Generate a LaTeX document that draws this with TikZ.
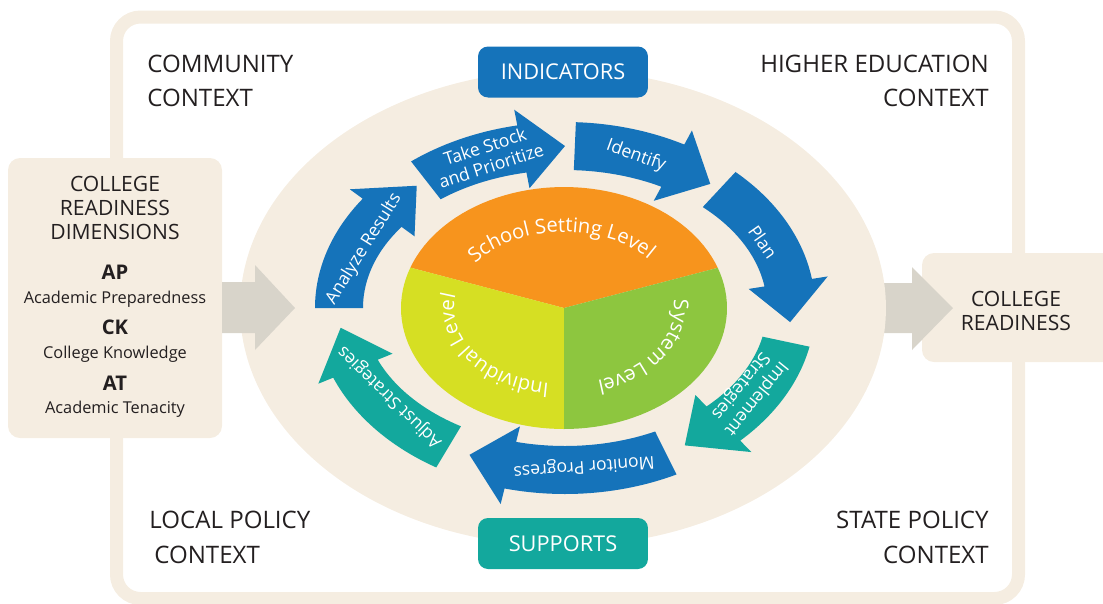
\documentclass[tikz,border=0pt]{standalone}
\usepackage{fontspec}
\setmainfont{Open Sans}
\usetikzlibrary{decorations.text}
\definecolor{beige}{HTML}{F5EDE1}
\definecolor{graya}{HTML}{D8D4CA}
\definecolor{bluea}{HTML}{1573BA}
\definecolor{teala}{HTML}{13A89D}
\definecolor{oranga}{HTML}{F7941D}
\definecolor{yella}{HTML}{D6DF23}
\definecolor{greena}{HTML}{8DC63F}
\definecolor{inka}{HTML}{231F20}
\newcommand\fsz[1]{\fontsize{#1}{#1}\selectfont}
% ring geometry for the cycle arrows
\def\CX{565}\def\CY{308}\def\RA{226}\def\RB{162}\def\HW{24}\def\BX{16}
\newcommand\ringarrow[4]{% color, tail angle, head base angle, tip angle
  \fill[#1] plot[domain=#2:#3,samples=30] ({\CX+(\RA+\HW)*cos(\x)},{\CY+(\RB+\HW)*sin(\x)})
    -- ({\CX+(\RA+\HW+\BX)*cos(#3)},{\CY+(\RB+\HW+\BX)*sin(#3)})
    -- ({\CX+\RA*cos(#4)},{\CY+\RB*sin(#4)})
    -- ({\CX+(\RA-\HW-\BX)*cos(#3)},{\CY+(\RB-\HW-\BX)*sin(#3)})
    -- plot[domain=#3:#2,samples=30] ({\CX+(\RA-\HW)*cos(\x)},{\CY+(\RB-\HW)*sin(\x)}) -- cycle;}
\begin{document}
\begin{tikzpicture}[x=0.02cm,y=-0.02cm,
  ctx/.style={inner sep=0, text=inka, font=\fsz{13.7}},
  dimcap/.style={inner sep=0, text=inka, font=\fsz{12}},
  dimab/.style={inner sep=0, text=inka, font=\bfseries\fsz{11.5}},
  dimtx/.style={inner sep=0, text=inka, font=\fsz{9.3}},
  tagbox/.style={rounded corners=0.2cm, minimum width=3.4cm, minimum height=1.02cm, text=white, font=\fsz{12.4}, inner sep=0},
  lbl/.style={inner sep=0, text=white, font=\fontsize{10}{11.5}\selectfont, align=center},
  pietext/.style={decorate, decoration={text along path, text align=center, text={|\fsz{11.5}\color{white}|#1}}}]
\useasboundingbox (0,0) rectangle (1103,603);
% outer frame
\draw[beige, line width=7.4pt, rounded corners=0.48cm] (116.5,17) rectangle (1018.5,598.5);
% right box and arrow
\fill[beige, rounded corners=0.24cm] (922,253) rectangle (1125,362);
\fill[graya] (860,283) -- (912,283) -- (912,267) -- (953,308) -- (912,350) -- (912,333) -- (860,333) -- cycle;
% big ellipse
\fill[beige] (563,308) ellipse (6.46cm and 4.76cm);
% left box and arrow
\fill[beige, rounded corners=0.24cm] (8,158) rectangle (222,438);
\fill[graya] (222,282) -- (255,282) -- (255,265) -- (295,308) -- (255,350) -- (255,333) -- (222,333) -- cycle;
% pie
\fill[oranga] (564,308) -- plot[domain=199.5:340.6,samples=50] ({564+163*cos(\x)},{308+121*sin(\x)}) -- cycle;
\fill[yella] (564,308) -- plot[domain=90:199.5,samples=40] ({564+163*cos(\x)},{308+121*sin(\x)}) -- cycle;
\fill[greena] (564,308) -- plot[domain=-19.4:90,samples=40] ({564+163*cos(\x)},{308+121*sin(\x)}) -- cycle;
\path[pietext={School Setting Level}] plot[domain=198:338,samples=50] ({564+110*cos(\x)},{308+76*sin(\x)});
\path[pietext={System Level}] plot[domain=-14:78,samples=40] ({564+110*cos(\x)},{308+76*sin(\x)});
\path[pietext={Individual Level}] plot[domain=92:198,samples=40] ({564+110*cos(\x)},{308+76*sin(\x)});
% cycle arrows
\ringarrow{bluea}{180}{216}{229}
\ringarrow{bluea}{232}{259}{270}
\ringarrow{bluea}{272.5}{298.5}{310}
\ringarrow{bluea}{313}{351}{365}
\ringarrow{teala}{12}{45.5}{58}
\ringarrow{bluea}{63.5}{104}{115}
\ringarrow{teala}{121}{158}{173}
\node[lbl, rotate=58] (an) at (364,249) {Analyze Results};
\node[lbl, rotate=18] (ts) at (488,156) {Take Stock\\and Prioritize};
\node[lbl, rotate=-20] (id) at (636,156) {Identify};
\node[lbl, rotate=-55] (pl) at (763,242) {Plan};
\node[lbl, rotate=-129] (im) at (748,392) {Implement\\Strategies};
\node[lbl, rotate=184] (mo) at (584,466) {Monitor Progress};
\node[lbl, rotate=136] (ad) at (390,397) {Adjust Strategies};
% tag boxes
\node[tagbox, fill=bluea] (ind) at (563,72) {INDICATORS};
\node[tagbox, fill=teala] (sup) at (563,543.5) {SUPPORTS};
% context labels
\node[ctx, anchor=base west] (c1a) at (147,72) {COMMUNITY};
\node[ctx, anchor=base west] (c1b) at (147,106) {CONTEXT};
\node[ctx, anchor=base east] (c2a) at (989,72) {HIGHER EDUCATION};
\node[ctx, anchor=base east] (c2b) at (989,106) {CONTEXT};
\node[ctx, anchor=base west] (c3a) at (149,528) {LOCAL POLICY};
\node[ctx, anchor=base west] (c3b) at (154,563) {CONTEXT};
\node[ctx, anchor=base east] (c4a) at (989,528) {STATE POLICY};
\node[ctx, anchor=base east] (c4b) at (989,563) {CONTEXT};
% left box text
\node[dimcap, anchor=base] (d1) at (115,191.5) {COLLEGE};
\node[dimcap, anchor=base] (d2) at (115,215.5) {READINESS};
\node[dimcap, anchor=base] (d3) at (115,239) {DIMENSIONS};
\node[dimab, anchor=base] (ap) at (115,279) {AP};
\node[dimtx, anchor=base] (apt) at (115,303) {Academic Preparedness};
\node[dimab, anchor=base] (ck) at (115,334) {CK};
\node[dimtx, anchor=base] (ckt) at (115,358) {College Knowledge};
\node[dimab, anchor=base] (at) at (115,390) {AT};
\node[dimtx, anchor=base] (att) at (115,413) {Academic Tenacity};
% right box text
\node[dimcap, anchor=base] (r1) at (1016,306) {COLLEGE};
\node[dimcap, anchor=base] (r2) at (1016,330) {READINESS};
\end{tikzpicture}
\end{document}
